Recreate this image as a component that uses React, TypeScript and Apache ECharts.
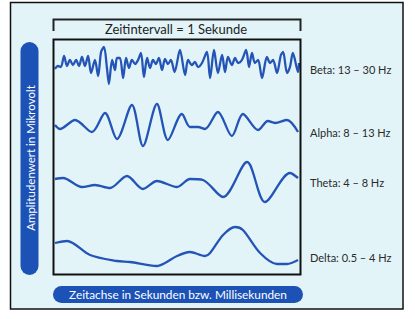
import React, { useEffect, useRef } from "react";
import * as echarts from "echarts";

// Time axis in milliseconds (0 – 1000 ms = 1 second), amplitudes in µV (relative to each trace's baseline)
const TIME_MAX = 1000;

const betaWave: [number, number][] = [
  [0, -3], [12, 0], [24, -1], [37, 10], [49, 0], [61, 6], [73, 1], [86, 6], [98, 0], [110, 9],
  [122, 0], [135, 10], [147, -7], [163, 6], [176, -10], [188, 14], [200, 19], [212, -2], [220, -18],
  [233, 6], [245, -4], [253, 8], [265, 8], [278, -12], [290, 8], [302, -2], [314, 6], [327, 2],
  [339, 6], [351, 13], [363, -11], [376, 8], [388, -2], [400, 6], [412, 2], [424, 8], [437, -4],
  [449, 7], [461, 2], [473, 6], [488, -6], [510, 16], [531, -9], [543, 6], [559, 1], [571, 4],
  [584, -1], [600, 3], [620, 14], [633, -12], [649, 16], [665, -7], [682, 11], [694, -6], [706, 9],
  [722, 1], [735, 8], [747, 3], [763, 6], [780, 16], [792, -1], [804, 13], [816, 3], [829, 6],
  [845, -12], [865, 9], [878, 3], [890, 6], [906, -7], [922, 11], [931, 14], [947, -7], [959, -1],
  [971, 13], [992, -6], [996, 3],
];

const alphaWave: [number, number][] = [
  [0, 0], [20, -4], [82, 5], [151, -7], [204, 12], [253, -14], [314, 20], [359, -21], [416, 21],
  [461, -15], [518, 11], [551, -2], [584, -2], [612, -4], [665, 13], [722, -11], [767, 11],
  [829, -5], [869, 4], [898, 2], [947, 5], [992, -7],
];

const thetaWave: [number, number][] = [
  [0, 3], [33, 4], [110, -5], [163, -3], [224, -6], [294, 6], [359, -7], [416, 1], [498, -5],
  [551, 3], [604, 2], [686, -15], [784, 20], [857, -20], [959, 9], [992, 4],
];

const deltaWave: [number, number][] = [
  [0, 9], [49, 11], [143, -3], [253, -9], [306, -10], [416, -14], [449, -11], [498, -4], [551, 0],
  [612, -4], [633, -1], [686, 17], [735, 25], [767, 22], [837, -1], [906, -12], [947, -12], [992, -8],
];

const waveNames = ["Beta", "Alpha", "Theta", "Delta"];
const waveLabels = ["Beta: 13 – 30 Hz", "Alpha: 8 – 13 Hz", "Theta: 4 – 8 Hz", "Delta: 0.5 – 4 Hz"];
const waves = [betaWave, alphaWave, thetaWave, deltaWave];

const titleText = "Zeitintervall = 1 Sekunde";
const yAxisTitle = "Amplitudenwert in Mikrovolt";
const xAxisTitle = "Zeitachse in Sekunden bzw. Millisekunden";

export default function App() {
  const ref = useRef<HTMLDivElement>(null);

  useEffect(() => {
    document.body.style.margin = "0";
    if (!ref.current) return;
    const chart = echarts.init(ref.current, undefined, { renderer: "svg" });

    const waveColor = "#2455b6";
    const barBlue = "#1c52b6";
    const font = "Lato, 'Liberation Sans', sans-serif";

    // layout of the four traces (top px, height px, half-range in µV)
    const gridTops = [40, 95, 152, 222];
    const gridHeights = [52, 60, 60, 60];
    const halfRanges = [26, 30, 30, 30];
    const labelY = [69, 132, 182, 257];

    const grids = gridTops.map((t, i) => ({
      left: 55,
      top: t,
      width: 245,
      height: gridHeights[i],
      containLabel: false,
    }));

    const xAxes = waves.map((_, i) => ({
      type: "value" as const,
      gridIndex: i,
      min: 0,
      max: TIME_MAX,
      show: false,
    }));
    const yAxes = waves.map((_, i) => ({
      type: "value" as const,
      gridIndex: i,
      min: -halfRanges[i],
      max: halfRanges[i],
      show: false,
    }));

    const series = waves.map((w, i) => ({
      name: waveNames[i],
      type: "line" as const,
      xAxisIndex: i,
      yAxisIndex: i,
      data: w,
      smooth: 0.3,
      showSymbol: false,
      symbol: "none",
      lineStyle: { color: waveColor, width: 2.3 },
      z: 5,
    }));

    const graphic: any[] = [
      // outer panel
      {
        type: "rect",
        z: -10,
        shape: { x: 10.5, y: 2.5, width: 392.5, height: 306.5 },
        style: { fill: "#e3f4f9", stroke: "#111", lineWidth: 1.5 },
      },
      // inner plot box
      {
        type: "rect",
        z: 10,
        shape: { x: 53.5, y: 39.5, width: 247, height: 235 },
        style: { fill: "none", stroke: "#111", lineWidth: 2 },
      },
      // interval bracket
      {
        type: "polyline",
        z: 10,
        shape: { points: [[53.5, 31], [53.5, 19.5], [300.5, 19.5], [300.5, 31]] },
        style: { fill: "none", stroke: "#222", lineWidth: 2 },
      },
      {
        type: "text",
        z: 10,
        x: 176,
        y: 29,
        style: {
          text: titleText,
          fill: "#222",
          font: `13px ${font}`,
          align: "center",
          verticalAlign: "middle",
        },
      },
      // left vertical bar
      {
        type: "rect",
        z: 10,
        shape: { x: 20.5, y: 42, width: 18, height: 233, r: 9 },
        style: { fill: barBlue },
      },
      {
        type: "text",
        z: 11,
        x: 30,
        y: 158,
        rotation: Math.PI / 2,
        style: {
          text: yAxisTitle,
          fill: "#ffffff",
          font: `11.5px ${font}`,
          align: "center",
          verticalAlign: "middle",
        },
      },
      // bottom horizontal bar
      {
        type: "rect",
        z: 10,
        shape: { x: 53, y: 286, width: 250, height: 17, r: 8.5 },
        style: { fill: barBlue },
      },
      {
        type: "text",
        z: 11,
        x: 178,
        y: 294.5,
        style: {
          text: xAxisTitle,
          fill: "#ffffff",
          font: `11.8px ${font}`,
          align: "center",
          verticalAlign: "middle",
        },
      },
      ...waveLabels.map((lbl, i) => ({
        type: "text",
        z: 10,
        x: 310,
        y: labelY[i],
        style: {
          text: lbl,
          fill: "#2a2a2a",
          font: `11px ${font}`,
          align: "left",
          verticalAlign: "middle",
        },
      })),
    ];

    chart.setOption({
      animation: false,
      backgroundColor: "#ffffff",
      grid: grids,
      xAxis: xAxes,
      yAxis: yAxes,
      series,
      graphic,
      tooltip: { show: false },
    });

    return () => chart.dispose();
  }, []);

  return <div ref={ref} style={{ width: 415, height: 319 }} />;
}
